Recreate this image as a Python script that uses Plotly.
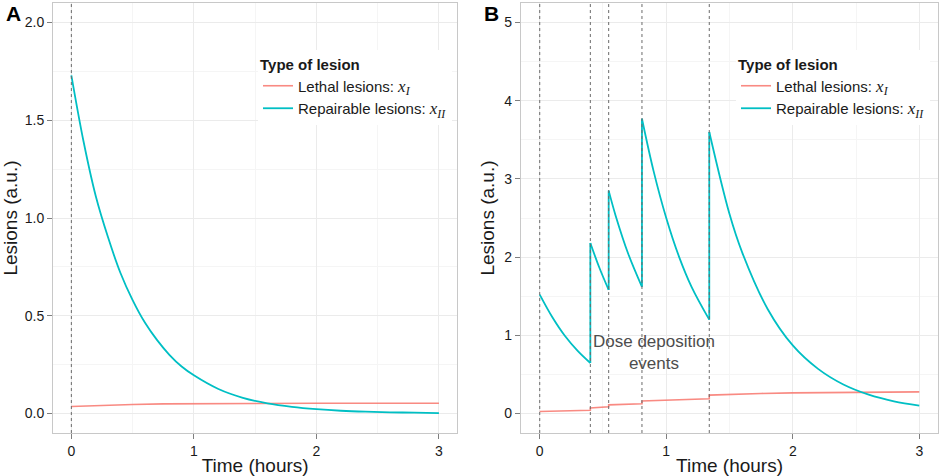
import plotly.graph_objects as go

# --- Panel A: single dose at t = 0 ---
a_event_times = [0]
a_rep_t = [0, 0.1, 0.2, 0.3, 0.4, 0.5, 0.6, 0.7, 0.8, 0.9, 1.0, 1.2, 1.4, 1.6, 1.8,
           2.0, 2.2, 2.4, 2.6, 2.8, 3.0]
a_rep_y = [1.73, 1.39, 1.11, 0.90, 0.72, 0.58, 0.465, 0.375, 0.30, 0.24, 0.195,
           0.125, 0.08, 0.052, 0.034, 0.022, 0.014, 0.009, 0.006, 0.004, 0.002]
a_leth_t = [0, 0.25, 0.5, 0.75, 1.0, 1.5, 2.0, 3.0]
a_leth_y = [0.036, 0.042, 0.046, 0.049, 0.050, 0.051, 0.052, 0.052]

# --- Panel B: fractionated dose deposition events ---
b_event_times = [0, 0.4, 0.545, 0.808, 1.34]
# decay segments between events (None splits the segments)
b_rep_t = [0, 0.1, 0.2, 0.3, 0.4, None,
           0.4, 0.47, 0.545, None,
           0.545, 0.6, 0.7, 0.808, None,
           0.808, 0.9, 1.0, 1.1, 1.2, 1.34, None,
           1.34, 1.5, 1.6, 1.8, 2.0, 2.2, 2.4, 2.6, 2.8, 3.0]
b_rep_y = [1.52, 1.23, 0.99, 0.80, 0.645, None,
           2.18, 1.87, 1.58, None,
           2.85, 2.53, 2.04, 1.62, None,
           3.77, 3.10, 2.50, 2.01, 1.62, 1.20, None,
           3.60, 2.55, 2.06, 1.34, 0.87, 0.57, 0.37, 0.24, 0.155, 0.10]
# vertical jumps of repairable lesions at each event (before, after)
b_jump_before = [0.645, 1.58, 1.62, 1.20]
b_jump_after = [2.18, 2.85, 3.77, 3.60]
b_leth_t = [0, 0.4, 0.4, 0.545, 0.545, 0.808, 0.808, 1.0, 1.2, 1.34, 1.34, 1.5,
            1.75, 2.0, 2.5, 3.0]
b_leth_y = [0.025, 0.04, 0.07, 0.085, 0.11, 0.125, 0.16, 0.172, 0.182, 0.188,
            0.235, 0.245, 0.256, 0.263, 0.272, 0.276]

RED = '#F8766D'
CYAN = '#00BFC4'
FONT = 'Liberation Sans'

math = ("<span style=\"font-family:'Liberation Serif';font-size:17px\"><i>x</i>"
        "<sub><i>{}</i></sub></span>")
lab_leth = 'Lethal lesions: ' + math.format('I')
lab_rep = 'Repairable lesions: ' + math.format('II')

fig = go.Figure()

# panel A
fig.add_trace(go.Scatter(x=a_leth_t, y=a_leth_y, mode='lines', name=lab_leth,
                         line=dict(color=RED, width=1.6), opacity=0.85,
                         xaxis='x', yaxis='y', legend='legend'))
fig.add_trace(go.Scatter(x=a_rep_t, y=a_rep_y, mode='lines', name=lab_rep,
                         line=dict(color=CYAN, width=1.8, shape='spline'),
                         xaxis='x', yaxis='y', legend='legend'))

# panel B
fig.add_trace(go.Scatter(x=b_leth_t, y=b_leth_y, mode='lines', name=lab_leth,
                         line=dict(color=RED, width=1.6), opacity=0.85,
                         xaxis='x2', yaxis='y2', legend='legend2'))
fig.add_trace(go.Scatter(x=b_rep_t, y=b_rep_y, mode='lines', name=lab_rep,
                         line=dict(color=CYAN, width=1.8, shape='spline'),
                         connectgaps=False,
                         xaxis='x2', yaxis='y2', legend='legend2'))
jx, jy = [], []
for t, lo, hi in zip(b_event_times[1:], b_jump_before, b_jump_after):
    jx += [t, t, None]
    jy += [lo, hi, None]
fig.add_trace(go.Scatter(x=jx, y=jy, mode='lines', showlegend=False,
                         line=dict(color=CYAN, width=1.8),
                         xaxis='x2', yaxis='y2', hoverinfo='skip'))

# garis titik-titik untuk event dosis
for t in a_event_times:
    fig.add_shape(type='line', x0=t, x1=t, y0=0, y1=1, xref='x', yref='y domain',
                  line=dict(color='#6A6A6A', width=1, dash='dot'), layer='above')
for t in b_event_times:
    fig.add_shape(type='line', x0=t, x1=t, y0=0, y1=1, xref='x2', yref='y2 domain',
                  line=dict(color='#6A6A6A', width=1, dash='dot'), layer='above')

ax_common = dict(
    showline=True, mirror=True, linecolor='#C8C8C8', linewidth=1,
    showgrid=True, gridcolor='#EBEBEB', gridwidth=1, zeroline=False,
    ticks='outside', ticklen=5, tickcolor='#7F7F7F', tickwidth=1,
    tickfont=dict(family=FONT, size=14, color='#1A1A1A'),
    automargin=False,
)
xtitle = dict(text='Time (hours)', font=dict(size=19, family=FONT), standoff=0)
ytitle = dict(text='Lesions (a.u.)', font=dict(size=19, family=FONT), standoff=4)
legend_common = dict(xanchor='left', yanchor='top', bgcolor='white', borderwidth=0,
                     itemwidth=30, tracegroupgap=0,
                     title=dict(text='<b>Type of lesion</b>', font=dict(size=15)),
                     font=dict(size=15, family=FONT))

fig.update_layout(
    width=941, height=476,
    template='none',
    paper_bgcolor='white', plot_bgcolor='white',
    margin=dict(l=0, r=0, t=0, b=0),
    font=dict(family=FONT, color='#1A1A1A'),
    xaxis=dict(domain=[0.0563, 0.4860], range=[-0.15, 3.15], dtick=1,
               minor=dict(dtick=0.5, showgrid=True, gridcolor='#F5F5F5'),
               title=xtitle, anchor='y', **ax_common),
    yaxis=dict(domain=[0.0903, 0.9937], range=[-0.1, 2.1], dtick=0.5, tickformat='.1f',
               minor=dict(dtick=0.25, showgrid=True, gridcolor='#F5F5F5'),
               title=ytitle, anchor='x', **ax_common),
    xaxis2=dict(domain=[0.5534, 0.9971], range=[-0.15, 3.15], dtick=1,
                minor=dict(dtick=0.5, showgrid=True, gridcolor='#F5F5F5'),
                title=xtitle, anchor='y2', **ax_common),
    yaxis2=dict(domain=[0.0903, 0.9937], range=[-0.25, 5.25], dtick=1,
                minor=dict(dtick=0.5, showgrid=True, gridcolor='#F5F5F5'),
                title=ytitle, anchor='x2', **ax_common),
    legend=dict(x=258 / 941, y=1 - 50 / 476, **legend_common),
    legend2=dict(x=736 / 941, y=1 - 50 / 476, **legend_common),
    showlegend=True,
)

fig.add_annotation(x=0.9, y=0.78, xref='x2', yref='y2', text='Dose deposition<br>events',
                   showarrow=False, font=dict(size=17, color='#4D4D4D', family=FONT))
fig.add_annotation(x=0.004, y=0.999, xref='paper', yref='paper', text='<b>A</b>',
                   showarrow=False, xanchor='left', yanchor='top',
                   font=dict(size=21, color='black', family=FONT))
fig.add_annotation(x=0.512, y=0.999, xref='paper', yref='paper', text='<b>B</b>',
                   showarrow=False, xanchor='left', yanchor='top',
                   font=dict(size=21, color='black', family=FONT))

# hilangkan margin bawaan body supaya figur pas di jendela
fig.write_html("out.html", config={'displayModeBar': False},
               post_script="document.body.style.margin='0';")
